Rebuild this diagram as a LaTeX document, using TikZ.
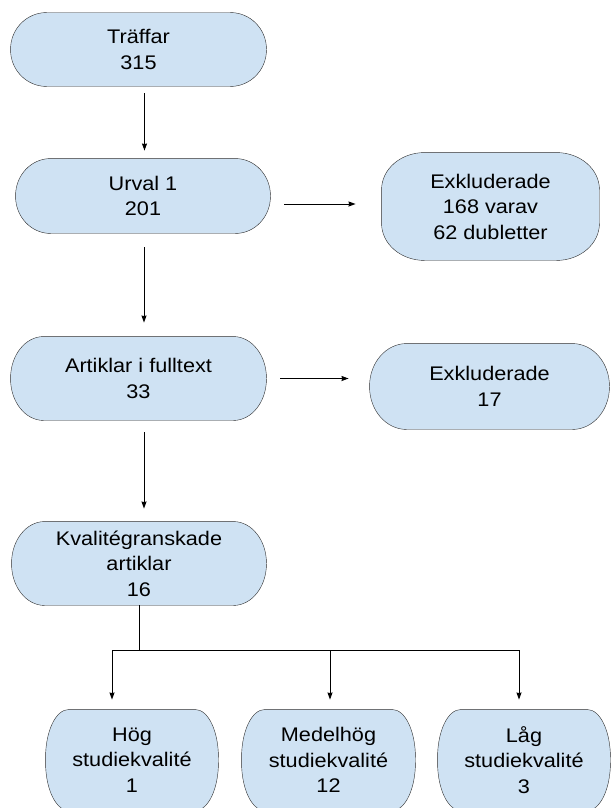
\documentclass[tikz,border=0pt]{standalone}
\usepackage{fontspec}
\setmainfont{Liberation Sans}[FakeStretch=1.1]
\usepackage{tikz}
\usetikzlibrary{arrows.meta,backgrounds}
\definecolor{rutabla}{RGB}{207,226,243}
\definecolor{kantgra}{RGB}{45,45,45}
% rundad ruta runt en nod: namn, x-radie, y-radie
\newcommand\rutaform[3]{%
  \filldraw[draw=kantgra, fill=rutabla]
    ([xshift=#2]#1.north west) -- ([xshift=-#2]#1.north east)
    arc[start angle=90, end angle=0, x radius=#2, y radius=#3]
    -- ([yshift=#3]#1.south east)
    arc[start angle=0, end angle=-90, x radius=#2, y radius=#3]
    -- ([xshift=#2]#1.south west)
    arc[start angle=270, end angle=180, x radius=#2, y radius=#3]
    -- ([yshift=-#3]#1.north west)
    arc[start angle=180, end angle=90, x radius=#2, y radius=#3]
    -- cycle;}

\begin{document}
\begin{tikzpicture}[x=1pt, y=-1pt, >={Stealth[length=7pt,width=5pt,inset=0.5pt]}, line width=0.9pt,
    ruta/.style={align=center, inner sep=0pt, font=\fontsize{19.7}{25.5}\selectfont},
    pil/.style={->, black}]
    \useasboundingbox (0,0) rectangle (611,808);
    % huvudflodet, vanster kolumn
    \node[ruta, minimum width=255pt, minimum height=73pt] (traffar) at (138.5,49.5) {Träffar\\315};
    \node[ruta, minimum width=254pt, minimum height=74pt] (urval) at (143,196) {Urval 1\\201};
    \node[ruta, minimum width=255pt, minimum height=83pt] (artiklar) at (138.5,378.5) {Artiklar i fulltext\\33};
    \node[ruta, minimum width=254pt, minimum height=83pt] (kval) at (139,563.5) {Kvalitégranskade\\artiklar\\16};
    % exkluderade, hoger kolumn
    \node[ruta, minimum width=217pt, minimum height=107pt] (exkl1) at (490.5,206.5) {Exkluderade\\168 varav\\62 dubletter};
    \node[ruta, minimum width=239pt, minimum height=85pt] (exkl2) at (489.5,386.5) {Exkluderade\\17};
    % studiekvalite, nederst
    \node[ruta, minimum width=172pt, minimum height=100pt] (hog) at (132,760) {Hög\\studiekvalité\\1};
    \node[ruta, minimum width=173pt, minimum height=100pt] (medel) at (328.5,760) {Medelhög\\studiekvalité\\12};
    \node[ruta, minimum width=172pt, minimum height=100pt] (lag) at (524,760) {Låg\\studiekvalité\\3};

    % rutornas former bakom texten
    \begin{scope}[on background layer]
      \foreach \n/\rx/\ry in {traffar/36pt/36.5pt, urval/35pt/37pt, artiklar/33pt/41.5pt, kval/33pt/41.5pt,
                              exkl1/43pt/37pt, exkl2/37pt/42.5pt, hog/23pt/48pt, medel/23pt/48pt, lag/23pt/48pt}
        \rutaform{\n}{\rx}{\ry};
    \end{scope}

    % pilar nedat
    \draw[pil, shorten <=7pt, shorten >=8pt] ([xshift=6pt]traffar.south) -- ([xshift=6pt]traffar.south |- urval.north);
    \draw[pil, shorten <=14pt, shorten >=14pt] ([xshift=1pt]urval.south) -- ([xshift=1pt]urval.south |- artiklar.north);
    \draw[pil, shorten <=12pt, shorten >=13pt] ([xshift=5.5pt]artiklar.south) -- ([xshift=5.5pt]artiklar.south |- kval.north);
    % pilar at hoger
    \draw[pil, shorten <=14pt, shorten >=26pt] ([yshift=2.5pt]urval.east |- exkl1.west) -- ([yshift=2.5pt]exkl1.west);
    \draw[pil, shorten <=14pt, shorten >=21pt] (artiklar.east) -- (artiklar.east -| exkl2.west);

    % forgrening
    \coordinate (gren) at (139,650);
    \coordinate (g1) at (112,650);
    \coordinate (g2) at (330,650);
    \coordinate (g3) at (519,650);
    \draw[black] (kval.south) -- (gren);
    \draw[black] (g1) -- (g3);
    \draw[pil, shorten >=10pt] (g1) -- (g1 |- hog.north);
    \draw[pil, shorten >=10pt] (g2) -- (g2 |- medel.north);
    \draw[pil, shorten >=10pt] (g3) -- (g3 |- lag.north);
\end{tikzpicture}
\end{document}
